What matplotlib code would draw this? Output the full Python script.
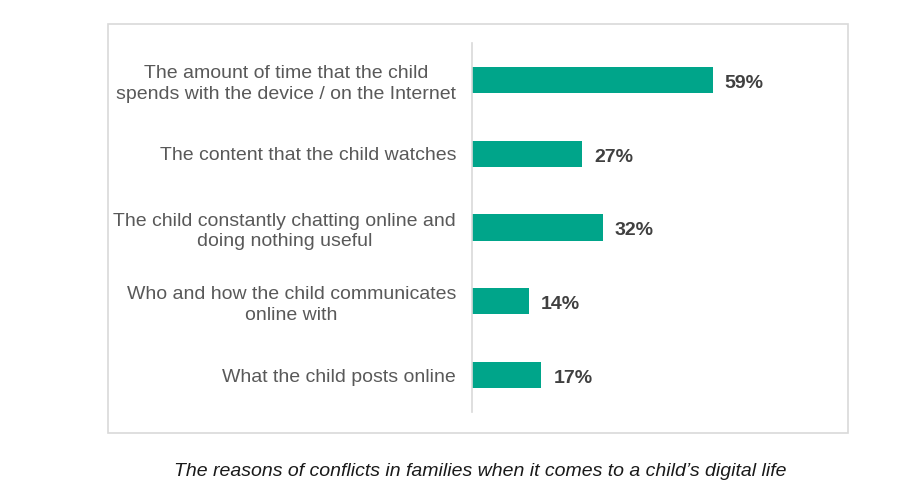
import matplotlib.pyplot as plt
from matplotlib.patches import Rectangle

plt.rcParams['font.family'] = ['Liberation Sans', 'DejaVu Sans']

categories = [
    'The amount of time that the child\nspends with the device / on the Internet',
    'The content that the child watches',
    'The child constantly chatting online and\ndoing nothing useful',
    'Who and how the child communicates\nonline with',
    'What the child posts online',
]
values = [59, 27, 32, 14, 17]
value_labels = ['59%', '27%', '32%', '14%', '17%']
caption = 'The reasons of conflicts in families when it comes to a child\u2019s digital life'

W, H = 902, 486
fig = plt.figure(figsize=(W / 100, H / 100), dpi=100)

# outer frame around the chart
fig.patches.append(Rectangle((108 / W, 1 - 433 / H), (848 - 108) / W, (433 - 24) / H,
                             transform=fig.transFigure, fill=False,
                             edgecolor='#d9d9d9', linewidth=1.2))

ax = fig.add_axes([472 / W, 1 - 412 / H, (800 - 472) / W, (412 - 43) / H])
y = list(range(len(categories)))
ax.barh(y, values, height=0.355, color='#00a58a')
ax.set_ylim(len(categories) - 0.5, -0.5)
ax.set_xlim(0, (800 - 472) / 4.08)

ax.set_yticks(y)
ax.set_yticklabels(categories, fontsize=14, color='#595959', ha='right',
                   multialignment='center', linespacing=1.3)
ax.tick_params(axis='y', length=0, pad=11.5)
ax.set_xticks([])
for s in ['top', 'right', 'bottom']:
    ax.spines[s].set_visible(False)
ax.spines['left'].set_color('#d9d9d9')
ax.spines['left'].set_linewidth(1.2)

for yi, v, lab in zip(y, values, value_labels):
    ax.annotate(lab, (v, yi), xytext=(8.6, -2.5), textcoords='offset points',
                va='center', ha='left', fontsize=14, fontweight='bold', color='#404040')

fig.text(480 / W, 1 - 471 / H, caption, ha='center', va='center',
         fontsize=14, style='italic', color='#1a1a1a')

fig.savefig('out.png', dpi=100)
